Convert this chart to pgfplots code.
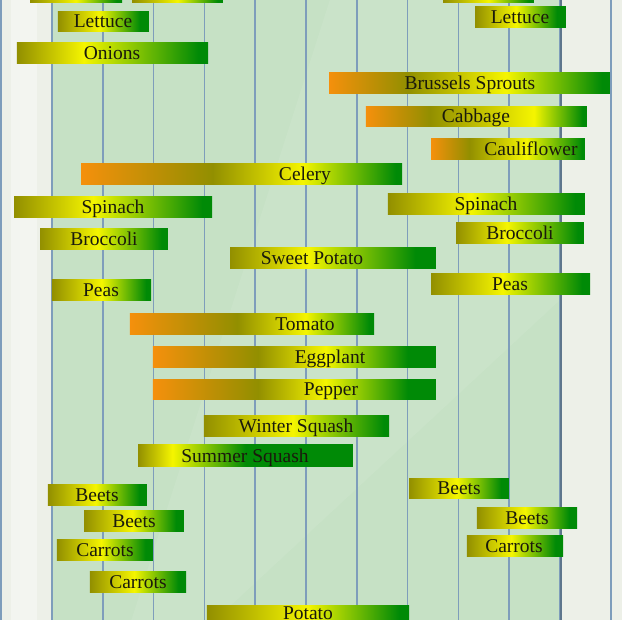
\documentclass[border=0pt]{standalone}
\usepackage{pgfplots}
\pgfplotsset{compat=1.18}
\usepackage{fontspec}
\setmainfont{Liberation Serif}
\definecolor{cOr}{HTML}{F5900C}
\definecolor{cOl}{HTML}{928F00}
\definecolor{cYe}{HTML}{F5F500}
\definecolor{cGr}{HTML}{008A06}
\definecolor{bgout}{HTML}{EDF0E8}
\definecolor{bgin}{HTML}{C6E1C5}
\definecolor{gridc}{HTML}{7E9DBB}
\definecolor{txt}{HTML}{1A1A0C}
% olive -> yellow -> green   (#2 yellow stop, #3 green stop, in bp; bar = 25bp..75bp)
\newcommand\shG[3]{\pgfdeclarehorizontalshading{#1}{100bp}{color(0bp)=(cOl); color(25bp)=(cOl); color(#2bp)=(cYe); color(#3bp)=(cGr); color(100bp)=(cGr)}}
% orange -> olive -> yellow -> green
\newcommand\shO[4]{\pgfdeclarehorizontalshading{#1}{100bp}{color(0bp)=(cOr); color(25bp)=(cOr); color(#2bp)=(cOl); color(#3bp)=(cYe); color(#4bp)=(cGr); color(100bp)=(cGr)}}
\shG{sTopA}{50}{72}
\shG{sTopB}{50}{72}
\shG{sTopC}{50}{72}
\shG{sLetL}{47.5}{70}
\shG{sLetR}{47.5}{70}
\shG{sOni}{42.5}{72.5}
\shO{sBru}{39}{56.5}{73.5}
\shO{sCab}{39.5}{63}{74}
\shO{sCau}{37.5}{56}{74}
\shO{sCel}{45.5}{59.5}{74}
\shG{sSpiL}{45}{72.5}
\shG{sSpiR}{46}{72.5}
\shG{sBroL}{47.5}{72.5}
\shG{sBroR}{45}{72.5}
\shG{sSwe}{44}{70}
\shG{sPeaL}{50}{72.5}
\shG{sPeaR}{47.5}{72.5}
\shO{sTom}{47}{61}{74}
\shO{sEgg}{43.5}{55.5}{70}
\shO{sPep}{43.5}{55.5}{70}
\shG{sWin}{49}{73.5}
\shG{sSum}{33}{50}
\shG{sBeeA}{49}{71}
\shG{sBeeB}{49}{71}
\shG{sBeeC}{49}{71}
\shG{sBeeD}{49}{71}
\shG{sCarA}{48}{71}
\shG{sCarB}{48}{71}
\shG{sCarC}{48}{71}
\shG{sPot}{50}{72.5}
% shading, x1, x2, ytop, ybottom
\newcommand\gbar[5]{\addplot[draw=none, shade, shading=#1] coordinates {(#2,#4) (#3,#4) (#3,#5) (#2,#5)} -- cycle;}
\newcommand\lab[3]{\node[anchor=base, text=txt, font=\fontsize{19.5}{20}\selectfont, inner sep=0pt] at (axis cs:#1,#2) {#3};}
\begin{document}
\begin{tikzpicture}
\begin{axis}[name=ax,
  scale only axis, width=622pt, height=620pt,
  xmin=-1.0236, xmax=11.2205, ymin=0, ymax=620, y dir=reverse,
  set layers,
  xtick={-1,0,...,12}, xticklabels={}, ytick=\empty,
  xmajorgrids, grid style={gridc, line width=1.5pt},
  major tick length=0pt, axis line style={draw=none},
]
% background areas
\addplot[on layer=axis background, fill=bgout, draw=none] coordinates {(-1.1,-5) (11.3,-5) (11.3,630) (-1.1,630)} -- cycle;
\addplot[on layer=axis background, fill=bgin, draw=none] coordinates {(0,-5) (10,-5) (10,630) (0,630)} -- cycle;
\addplot[on layer=axis background, fill=white, fill opacity=0.07, draw=none] coordinates {(5.5,-5) (10,-5) (10,300) (3.0,630) (1.5,630)} -- cycle;
\addplot[on layer=axis background, fill=white, fill opacity=0.35, draw=none] coordinates {(-0.8,-5) (-0.3,-5) (-0.3,630) (-0.8,630)} -- cycle;
% right border of the season
\addplot[draw=gridc!75!black, line width=1.8pt] coordinates {(10.02,-5) (10.02,630)};
% bars
\gbar{sTopA}{-0.433}{1.378}{-18}{3}
\gbar{sTopB}{1.575}{3.366}{-18}{3}
\gbar{sTopC}{7.697}{9.488}{-18}{3}
\gbar{sLetL}{0.118}{1.909}{12}{32}
\gbar{sLetR}{8.327}{10.118}{7}{28}
\gbar{sOni}{-0.689}{3.071}{43}{64}
\gbar{sBru}{5.453}{10.984}{73}{94}
\gbar{sCab}{6.181}{10.531}{107}{127}
\gbar{sCau}{7.461}{10.492}{139}{160}
\gbar{sCel}{0.571}{6.890}{164}{185}
\gbar{sSpiL}{-0.748}{3.150}{197}{218}
\gbar{sSpiR}{6.614}{10.492}{194}{215}
\gbar{sBroL}{-0.236}{2.283}{229}{250}
\gbar{sBroR}{7.953}{10.472}{223}{244}
\gbar{sSwe}{3.504}{7.559}{248}{269}
\gbar{sPeaL}{0.000}{1.949}{280}{301}
\gbar{sPeaR}{7.461}{10.591}{274}{295}
\gbar{sTom}{1.535}{6.339}{314}{335}
\gbar{sEgg}{1.988}{7.559}{347}{368}
\gbar{sPep}{1.988}{7.559}{380}{400}
\gbar{sWin}{2.992}{6.634}{416}{437}
\gbar{sSum}{1.693}{5.925}{445}{467}
\gbar{sBeeA}{-0.079}{1.870}{485}{506}
\gbar{sBeeB}{7.028}{8.996}{479}{499}
\gbar{sBeeC}{0.630}{2.598}{511}{532}
\gbar{sBeeD}{8.366}{10.335}{508}{529}
\gbar{sCarA}{0.098}{1.988}{540}{561}
\gbar{sCarB}{8.169}{10.059}{536}{557}
\gbar{sCarC}{0.748}{2.638}{572}{593}
\gbar{sPot}{3.051}{7.028}{606}{627}
% labels
\lab{1.004}{28}{Lettuce}
\lab{9.213}{23.5}{Lettuce}
\lab{1.181}{59.5}{Onions}
\lab{8.228}{89.5}{Brussels Sprouts}
\lab{8.346}{122.5}{Cabbage}
\lab{9.429}{155.5}{Cauliflower}
\lab{4.980}{180.5}{Celery}
\lab{1.201}{213.5}{Spinach}
\lab{8.543}{210.5}{Spinach}
\lab{1.024}{245.5}{Broccoli}
\lab{9.213}{239.5}{Broccoli}
\lab{5.118}{264.5}{Sweet Potato}
\lab{0.965}{296.5}{Peas}
\lab{9.016}{290.5}{Peas}
\lab{4.980}{330.5}{Tomato}
\lab{5.472}{363.5}{Eggplant}
\lab{5.492}{395.5}{Pepper}
\lab{4.803}{432.5}{Winter Squash}
\lab{3.799}{462.5}{Summer Squash}
\lab{0.886}{501.5}{Beets}
\lab{8.012}{494.5}{Beets}
\lab{1.614}{527.5}{Beets}
\lab{9.350}{524.5}{Beets}
\lab{1.043}{556.5}{Carrots}
\lab{9.094}{552.5}{Carrots}
\lab{1.693}{588.5}{Carrots}
\lab{5.039}{620}{Potato}
\end{axis}
\pgfresetboundingbox
\path[use as bounding box] (ax.south west) rectangle (ax.north east);
\end{tikzpicture}
\end{document}
